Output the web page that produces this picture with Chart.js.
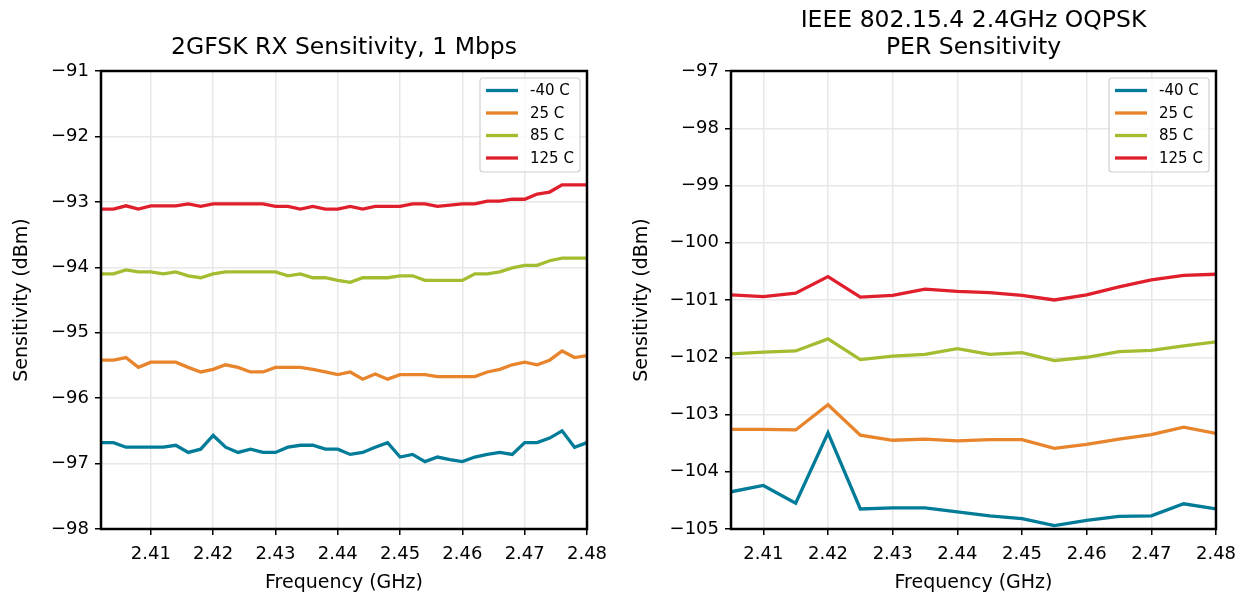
<!DOCTYPE html>
<html>
<head>
<meta charset="utf-8">
<script src="https://cdn.jsdelivr.net/npm/chart.js@4.4.1/dist/chart.umd.min.js"></script>
<style>
    body { margin: 0; background: #fff; }
    canvas { position: absolute; top: 0; }
    #grafico-ble { left: 0; }
    #grafico-154 { left: 620px; }
</style>
</head>
<body>
<canvas id="grafico-ble" width="620" height="598"></canvas>
<canvas id="grafico-154" width="621" height="598"></canvas>
<script>
const legendas = ['-40 C', '25 C', '85 C', '125 C'];
const cores = ['#007b98', '#e8842b', '#a3bd31', '#e01f2d'];

// 2GFSK 1 Mbps, canais BLE (GHz)
const freqBle = [
    2.402, 2.404, 2.406, 2.408, 2.410, 2.412, 2.414, 2.416, 2.418, 2.420,
    2.422, 2.424, 2.426, 2.428, 2.430, 2.432, 2.434, 2.436, 2.438, 2.440,
    2.442, 2.444, 2.446, 2.448, 2.450, 2.452, 2.454, 2.456, 2.458, 2.460,
    2.462, 2.464, 2.466, 2.468, 2.470, 2.472, 2.474, 2.476, 2.478, 2.480
];
const bleMenos40 = [
    -96.68, -96.68, -96.75, -96.75, -96.75, -96.75, -96.72, -96.83, -96.78, -96.57,
    -96.75, -96.83, -96.78, -96.83, -96.83, -96.75, -96.72, -96.72, -96.78, -96.78,
    -96.86, -96.83, -96.75, -96.68, -96.90, -96.86, -96.97, -96.90, -96.94, -96.97,
    -96.90, -96.86, -96.83, -96.86, -96.68, -96.68, -96.61, -96.50, -96.75, -96.68
];
const ble25 = [
    -95.42, -95.42, -95.38, -95.53, -95.45, -95.45, -95.45, -95.53, -95.60, -95.56,
    -95.49, -95.53, -95.60, -95.60, -95.53, -95.53, -95.53, -95.56, -95.60, -95.64,
    -95.60, -95.71, -95.63, -95.71, -95.64, -95.64, -95.64, -95.67, -95.67, -95.67,
    -95.67, -95.60, -95.56, -95.49, -95.45, -95.49, -95.42, -95.28, -95.38, -95.35
];
const ble85 = [
    -94.10, -94.10, -94.04, -94.07, -94.07, -94.10, -94.07, -94.13, -94.16, -94.10,
    -94.07, -94.07, -94.07, -94.07, -94.07, -94.13, -94.10, -94.16, -94.16, -94.20,
    -94.23, -94.16, -94.16, -94.16, -94.13, -94.13, -94.20, -94.20, -94.20, -94.20,
    -94.10, -94.10, -94.07, -94.01, -93.97, -93.97, -93.90, -93.86, -93.86, -93.86
];
const ble125 = [
    -93.11, -93.11, -93.06, -93.11, -93.06, -93.06, -93.06, -93.03, -93.07, -93.03,
    -93.03, -93.03, -93.03, -93.03, -93.07, -93.07, -93.11, -93.07, -93.11, -93.11,
    -93.07, -93.11, -93.07, -93.07, -93.07, -93.03, -93.03, -93.07, -93.05, -93.03,
    -93.03, -92.99, -92.99, -92.96, -92.96, -92.88, -92.85, -92.74, -92.74, -92.74
];

// IEEE 802.15.4 OQPSK, canais 11-26 (GHz)
const freq154 = [
    2.405, 2.410, 2.415, 2.420, 2.425, 2.430, 2.435, 2.440,
    2.445, 2.450, 2.455, 2.460, 2.465, 2.470, 2.475, 2.480
];
const oqpskMenos40 = [-104.35, -104.24, -104.55, -103.32, -104.65, -104.63, -104.63, -104.70,
    -104.77, -104.82, -104.94, -104.85, -104.78, -104.77, -104.56, -104.65];
const oqpsk25 = [-103.26, -103.26, -103.27, -102.83, -103.36, -103.45, -103.43, -103.46,
    -103.44, -103.44, -103.59, -103.52, -103.43, -103.35, -103.22, -103.33];
const oqpsk85 = [-101.94, -101.91, -101.89, -101.68, -102.04, -101.98, -101.95, -101.85,
    -101.95, -101.92, -102.06, -102.00, -101.90, -101.88, -101.80, -101.73];
const oqpsk125 = [-100.91, -100.94, -100.88, -100.59, -100.95, -100.92, -100.81, -100.85,
    -100.87, -100.92, -101.00, -100.91, -100.77, -100.65, -100.57, -100.55];

const ticksX = [2.41, 2.42, 2.43, 2.44, 2.45, 2.46, 2.47, 2.48];
const ticksYBle = [-98, -97, -96, -95, -94, -93, -92, -91];
const ticksY154 = [-105, -104, -103, -102, -101, -100, -99, -98, -97];

const FONTE = "'DejaVu Sans', sans-serif";

const pluginMoldura = {
    id: 'moldura',
    afterDraw(chart) {
        const { ctx, chartArea: a } = chart;
        ctx.save();
        ctx.strokeStyle = '#000';
        ctx.lineWidth = 2.5;
        ctx.strokeRect(a.left, a.top, a.right - a.left, a.bottom - a.top);
        ctx.restore();
    }
};

const pluginTitulo = {
    id: 'tituloFixo',
    afterDraw(chart, args, opts) {
        const { ctx, chartArea: a } = chart;
        const linhas = opts.linhas || [];
        ctx.save();
        ctx.fillStyle = '#000';
        ctx.font = `23.5px ${FONTE}`;
        ctx.textAlign = 'center';
        ctx.textBaseline = 'middle';
        const cx = (a.left + a.right) / 2;
        linhas.forEach((t, i) => {
            ctx.fillText(t, cx, a.top - 23 - (linhas.length - 1 - i) * 27);
        });
        ctx.restore();
    }
};

const pluginLegenda = {
    id: 'legendaCaixa',
    afterDraw(chart) {
        const { ctx, chartArea: a } = chart;
        const largura = 100, altura = 94;
        const x0 = a.right - 7 - largura;
        const y0 = a.top + 7;
        ctx.save();
        ctx.fillStyle = 'rgba(255,255,255,0.8)';
        ctx.strokeStyle = '#d0d0d0';
        ctx.lineWidth = 1.2;
        ctx.beginPath();
        ctx.roundRect(x0, y0, largura, altura, 3);
        ctx.fill();
        ctx.stroke();
        ctx.font = `15px ${FONTE}`;
        ctx.textBaseline = 'middle';
        ctx.textAlign = 'left';
        chart.data.datasets.forEach((ds, i) => {
            const y = y0 + 12.5 + i * 22.5;
            ctx.strokeStyle = ds.borderColor;
            ctx.lineWidth = 3.3;
            ctx.beginPath();
            ctx.moveTo(x0 + 6, y);
            ctx.lineTo(x0 + 38, y);
            ctx.stroke();
            ctx.fillStyle = '#000';
            ctx.fillText(ds.label, x0 + 50, y + 1);
        });
        ctx.restore();
    }
};

function formatarMenos(valor) {
    return valor < 0 ? '\u2212' + Math.abs(valor) : String(valor);
}

function criarGrafico(elementoId, titulo, freqs, series, ticksY, larguraEixoY, paddingDireita) {
    const contexto = document.getElementById(elementoId);

    return new Chart(contexto, {
        type: 'line',
        data: {
            datasets: series.map((valores, i) => ({
                label: legendas[i],
                data: valores.map((v, j) => ({ x: freqs[j], y: v })),
                borderColor: cores[i],
                backgroundColor: cores[i],
                borderWidth: 3.3,
                pointRadius: 0,
                tension: 0,
                fill: false
            }))
        },
        options: {
            responsive: false,
            animation: false,
            layout: {
                padding: { left: 0, right: paddingDireita, top: 71, bottom: 0 }
            },
            plugins: {
                legend: { display: false },
                tooltip: { enabled: false },
                tituloFixo: { linhas: titulo }
            },
            scales: {
                x: {
                    type: 'linear',
                    min: freqs[0],
                    max: freqs[freqs.length - 1],
                    afterBuildTicks(escala) {
                        escala.ticks = ticksX.map(v => ({ value: v }));
                    },
                    afterFit(escala) {
                        escala.height = 598 - 529;
                        // a margem fica só com o layout.padding
                        escala.paddingLeft = 0;
                        escala.paddingRight = 0;
                    },
                    ticks: {
                        color: '#000',
                        font: { family: FONTE, size: 18 },
                        padding: 9,
                        maxRotation: 0,
                        callback(valor) {
                            return valor.toFixed(2);
                        }
                    },
                    grid: {
                        color: '#e8e8e8',
                        lineWidth: 1.5,
                        drawTicks: true,
                        tickLength: 6,
                        tickColor: '#000',
                        tickWidth: 1.5
                    },
                    border: { display: false },
                    title: {
                        display: true,
                        text: 'Frequency (GHz)',
                        color: '#000',
                        font: { family: FONTE, size: 19 },
                        padding: { top: 0, bottom: 4 }
                    }
                },
                y: {
                    min: ticksY[0],
                    max: ticksY[ticksY.length - 1],
                    afterBuildTicks(escala) {
                        escala.ticks = ticksY.map(v => ({ value: v }));
                    },
                    afterFit(escala) {
                        escala.width = larguraEixoY;
                    },
                    ticks: {
                        color: '#000',
                        font: { family: FONTE, size: 18 },
                        padding: 6,
                        callback(valor) {
                            return formatarMenos(valor);
                        }
                    },
                    grid: {
                        color: '#e8e8e8',
                        lineWidth: 1.5,
                        drawTicks: true,
                        tickLength: 6,
                        tickColor: '#000',
                        tickWidth: 1.5
                    },
                    border: { display: false },
                    title: {
                        display: true,
                        text: 'Sensitivity (dBm)',
                        color: '#000',
                        font: { family: FONTE, size: 19 },
                        padding: { top: 11, bottom: 0 }
                    }
                }
            }
        },
        plugins: [pluginMoldura, pluginTitulo, pluginLegenda]
    });
}

criarGrafico(
    'grafico-ble',
    ['2GFSK RX Sensitivity, 1 Mbps'],
    freqBle,
    [bleMenos40, ble25, ble85, ble125],
    ticksYBle,
    101,
    33
);

criarGrafico(
    'grafico-154',
    ['IEEE 802.15.4 2.4GHz OQPSK', 'PER Sensitivity'],
    freq154,
    [oqpskMenos40, oqpsk25, oqpsk85, oqpsk125],
    ticksY154,
    111,
    25
);
</script>
</body>
</html>
